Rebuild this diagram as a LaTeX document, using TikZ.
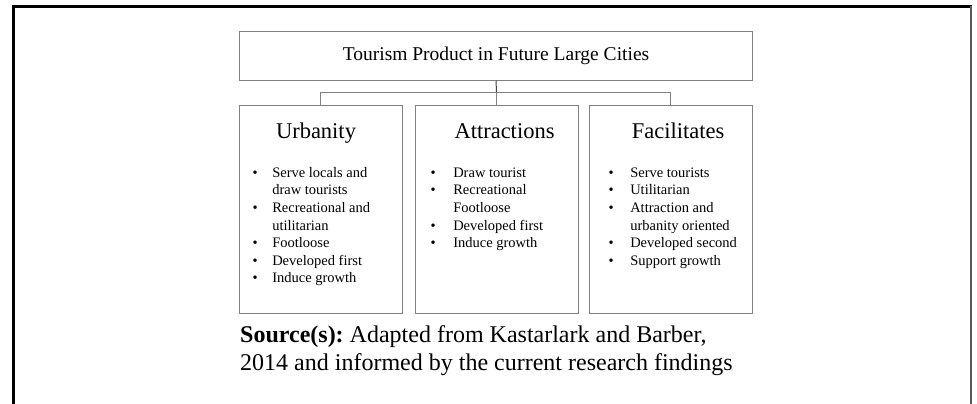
\documentclass[tikz,border=0pt]{standalone}
\usepackage{fontspec}
\setmainfont{Liberation Serif}
\usepackage{tikz}

\begin{document}
\begin{tikzpicture}[x=1pt, y=-1pt,
  frame/.style={line width=3pt, black},
  topbox/.style={draw=gray, line width=1pt, minimum width=513pt, minimum height=48pt, inner sep=0pt, font=\fontsize{19.5}{23}\selectfont},
  catbox/.style={draw=gray, line width=1pt, minimum width=163pt, minimum height=208pt, inner sep=0pt},
  link/.style={draw=gray, line width=1pt},
  head/.style={anchor=base, inner sep=0pt, font=\fontsize{22.5}{27}\selectfont},
  items/.style={anchor=north west, inner sep=0pt, font=\fontsize{14.5}{17.6}\selectfont}]

\useasboundingbox (0,0) rectangle (977,404);

% frame round the figure
\draw [frame] (13.5,404) -- (13.5,6.5) -- (972,6.5);
\draw [line width=1.5pt, black!65] (971,6.5) -- (971,404);

\node [topbox] (title) at (496,56) {Tourism Product in Future Large Cities};

\node [catbox] (urb) at (320.5,209) {};
\node [catbox] (att) at (496.5,209) {};
\node [catbox] (fac) at (670.5,209) {};

\coordinate (hub) at (496.5,92);
\draw [line width=1pt, black!75] (title.south) -- (hub);
\draw [link] (hub) -| (urb.north);
\draw [link] (hub) -| (fac.north);
\draw [link] (hub) -- (att.north);

\node [head] (urbhead) at (316,138) {Urbanity};
\node [head] (atthead) at (504.5,138) {Attractions};
\node [head] (fachead) at (678,138) {Facilitates};

\node [items] (urblist) at (252.5,164.7) {\begin{tabular}{@{}l@{\hspace{14.5pt}}l@{}}
\textbullet & Serve locals and\\
 & draw tourists\\
\textbullet & Recreational and\\
 & utilitarian\\
\textbullet & Footloose\\
\textbullet & Developed first\\
\textbullet & Induce growth
\end{tabular}};

\node [items] (attlist) at (430.5,164.7) {\begin{tabular}{@{}l@{\hspace{17.5pt}}l@{}}
\textbullet & Draw tourist\\
\textbullet & Recreational\\
 & Footloose\\
\textbullet & Developed first\\
\textbullet & Induce growth
\end{tabular}};

\node [items] (faclist) at (608.5,164.7) {\begin{tabular}{@{}l@{\hspace{16.5pt}}l@{}}
\textbullet & Serve tourists\\
\textbullet & Utilitarian\\
\textbullet & Attraction and\\
 & urbanity oriented\\
\textbullet & Developed second\\
\textbullet & Support growth
\end{tabular}};

\node [anchor=north west, inner sep=0pt, align=left, font=\fontsize{24}{28}\selectfont\frenchspacing] (source) at (240,325)
  {\textbf{Source(s):} Adapted from Kastarlark and Barber,\\2014 and informed by the current research findings};
\end{tikzpicture}
\end{document}
